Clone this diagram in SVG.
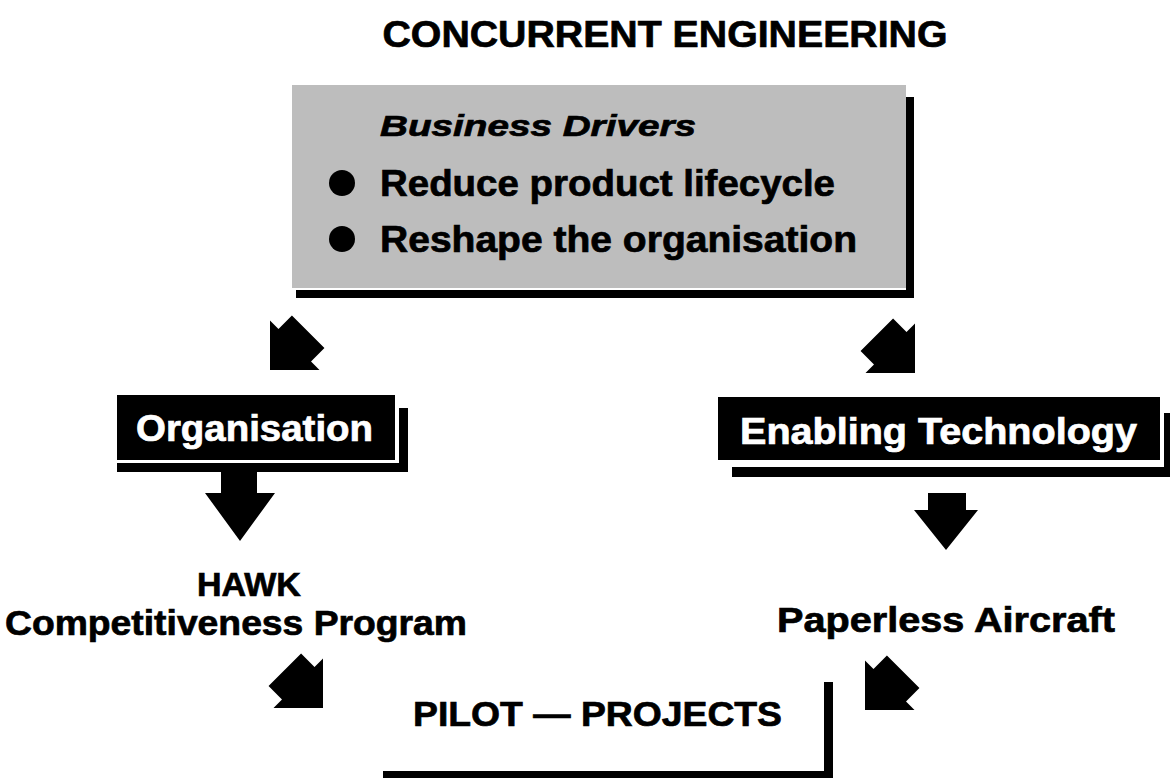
<svg xmlns="http://www.w3.org/2000/svg" width="1170" height="781" viewBox="0 0 1170 781">
<style>
.t{font-family:"Liberation Sans",Arial,sans-serif;font-weight:bold;fill:#000;stroke:#000;stroke-width:0.7}
.w{fill:#fff;stroke:#fff}
.k{fill:#000}
</style>
<defs>
<polygon id="arr" points="0,0 35,-35 23,-35 23,-54 -23,-54 -23,-35 -35,-35"/>
</defs>
<rect width="1170" height="781" fill="#fff"/>
<text class="t" x="665" y="47" font-size="37" text-anchor="middle" textLength="565" lengthAdjust="spacingAndGlyphs">CONCURRENT ENGINEERING</text>

<g id="business-drivers">
<rect x="292" y="85" width="614" height="203" fill="#bdbdbd"/>
<rect class="k" x="906" y="97" width="8" height="201"/>
<rect class="k" x="296" y="290" width="618" height="8"/>
<text class="t" x="380" y="136" font-size="30" font-style="italic" textLength="316" lengthAdjust="spacingAndGlyphs">Business Drivers</text>
<circle class="k" cx="342" cy="183" r="13"/>
<text class="t" x="380" y="196" font-size="36" textLength="455" lengthAdjust="spacingAndGlyphs">Reduce product lifecycle</text>
<circle class="k" cx="342" cy="239" r="13"/>
<text class="t" x="380" y="252" font-size="36" textLength="477" lengthAdjust="spacingAndGlyphs">Reshape the organisation</text>
</g>

<g id="organisation">
<rect class="k" x="117" y="395" width="278" height="65"/>
<rect class="k" x="399" y="408" width="9" height="64"/>
<rect class="k" x="117" y="463" width="291" height="9"/>
<text class="t w" x="136" y="441" font-size="36" textLength="237" lengthAdjust="spacingAndGlyphs">Organisation</text>
</g>

<g id="enabling-technology">
<rect class="k" x="718" y="397" width="442" height="63"/>
<rect class="k" x="1164" y="413" width="6" height="64"/>
<rect class="k" x="732" y="467" width="438" height="10"/>
<text class="t w" x="740" y="444" font-size="36" textLength="397" lengthAdjust="spacingAndGlyphs">Enabling Technology</text>
</g>

<g id="hawk">
<text class="t" x="249" y="596" font-size="34" text-anchor="middle">HAWK</text>
<text class="t" x="236" y="635" font-size="35" text-anchor="middle" textLength="462" lengthAdjust="spacingAndGlyphs">Competitiveness Program</text>
</g>

<g id="paperless-aircraft">
<text class="t" x="946" y="632" font-size="35" text-anchor="middle" textLength="338" lengthAdjust="spacingAndGlyphs">Paperless Aircraft</text>
</g>

<g id="pilot-projects">
<text class="t" x="413" y="726" font-size="35" textLength="369" lengthAdjust="spacingAndGlyphs">PILOT — PROJECTS</text>
<rect class="k" x="824" y="682" width="9" height="96"/>
<rect class="k" x="383" y="771" width="450" height="7"/>
</g>

<g id="connectors">
<use href="#arr" transform="translate(270,370) rotate(45)"/>
<use href="#arr" transform="translate(915,373) rotate(-45)"/>
<polygon class="k" points="221,470 257,470 257,493 275,493 240,541 205,493 221,493"/>
<polygon class="k" points="928,493 966,493 966,510 978,510 946,550 914,510 928,510"/>
<use href="#arr" transform="translate(323,708) rotate(-45)"/>
<use href="#arr" transform="translate(865,710) rotate(45)"/>
</g>
</svg>
